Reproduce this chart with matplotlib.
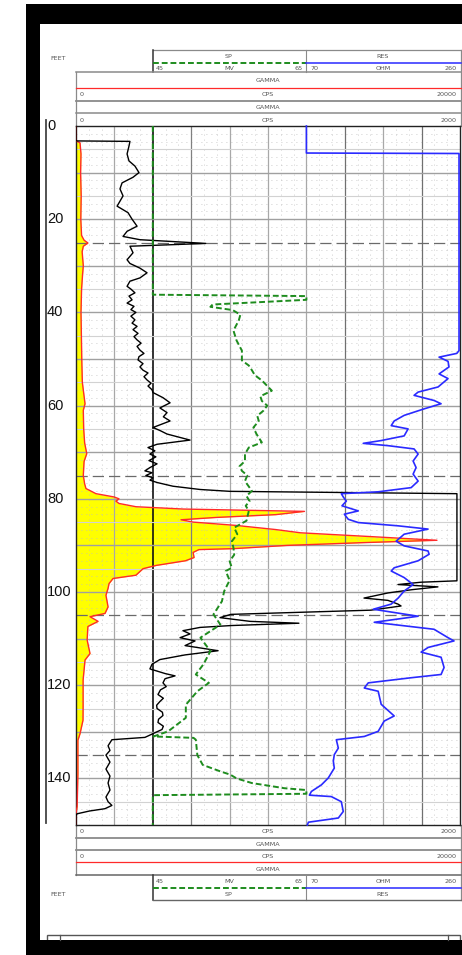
import matplotlib
matplotlib.use("Agg")
import matplotlib.pyplot as plt
import matplotlib.transforms as mtransforms
from matplotlib.patches import Rectangle

# ---------------- data (depth in feet) ----------------
# GAMMA, 0-20000 CPS (red curve with yellow fill)
gamma_hi_depth = [0, 3.2, 3.6, 6, 10, 15, 20, 23.5, 24.5, 25.1, 25.8, 27, 30, 32, 35, 40, 45, 50, 55,
                  59.6, 61, 65, 68, 70.3, 72, 75, 76.8, 77.8, 78.9, 79.6, 80.0, 80.5, 81.0, 81.7, 82.2,
                  82.7, 83.4, 84.0, 84.5, 85.0, 85.7, 86.6, 87.3, 88.1, 88.9, 89.4, 90.0, 90.7, 90.9,
                  91.5, 92.6, 93.3, 94.3, 95.0, 96.4, 97.1, 98.2, 99.2, 100.7, 103.2, 104.6, 105.3,
                  106.3, 107.4, 110.3, 113.2, 114.6, 118.9, 124.6, 127.5, 130.4, 131.8, 139.0, 146.0,
                  147.5, 150]
gamma_hi_cps = [0, 0, 210, 260, 240, 270, 250, 290, 420, 620, 380, 320, 380, 340, 290, 260, 280, 300, 330,
                470, 380, 400, 450, 560, 420, 380, 450, 520, 1040, 1980, 2240, 2080, 2240, 3120, 5600,
                11900, 10400, 7300, 5470, 6100, 8300, 10400, 11700, 15300, 18800, 15000, 11000, 8200, 6400,
                6100, 6150, 5700, 4170, 3490, 3120, 1930, 1720, 1670, 1560, 1670, 1510, 730,
                1150, 620, 580, 730, 470, 370, 370, 365, 210, 100, 100, 60,
                0, 0]

# GAMMA, 0-2000 CPS (black curve)
gamma_lo_depth = [0, 3.2, 3.3, 4.3, 6, 7.5, 8.6, 10, 11, 12.2, 13.5, 15, 17.2, 18.6, 20, 21.5, 22.6, 23.7,
                  24.4, 25.2, 25.8, 27.2, 28.7, 29.5, 30.5, 31.5, 32.6, 33.3, 34.4, 35.0, 35.8, 36.5, 37.3,
                  38.0, 38.7, 39.4, 40.0, 40.8, 41.6, 42.3, 43.0, 43.7, 44.5, 45.2, 45.9, 46.6, 47.3, 48.1,
                  48.8, 49.5, 50.2, 51.0, 51.7, 52.4, 53.0, 53.8, 54.5, 55.2, 55.8, 56.6, 57.2, 58.3, 59.4,
                  60.5, 61.5, 62.4, 63.3, 64.7, 65.4, 66.1, 67.4, 68.3, 69.0, 69.7, 70.4, 71.0, 71.8, 72.5,
                  73.3, 74.0, 74.4, 75.0, 75.5, 76.0, 76.5, 77.3, 78.0, 78.4, 78.9, 97.6, 97.9,
                  98.4, 98.9, 99.5, 100.2, 101.3, 101.8, 102.6, 103.0, 103.9, 104.8, 105.5, 106.3, 106.7,
                  107.2, 107.6, 108.3, 109.0, 109.8, 110.5, 111.5, 112.6, 113.5, 114.5, 115.5, 116.5, 117.5,
                  118.0, 118.6, 119.5, 120.3, 121.0, 122.0, 122.8, 123.5, 124.3, 125.0, 125.8, 126.5, 127.3,
                  128.0, 128.8, 129.5, 130.5, 131.2, 131.7,
                  133.0, 134.0, 135.0, 136.5, 138.0, 139.5, 141.0, 142.5, 144.0, 145.0, 145.8, 146.5, 147.0,
                  147.6, 148.0, 150]
gamma_lo_cps = [0, 0, 281, 276, 266, 276, 307, 328, 297, 240, 229, 245, 214, 271, 292, 318, 266, 245,
                333, 677, 281, 297, 266, 281, 333, 370, 333, 281, 266, 286, 307, 276, 292,
                266, 302, 286, 312, 286, 307, 292, 318, 297, 323, 302, 318, 339, 318, 333,
                354, 328, 323, 349, 333, 349, 375, 354, 370, 391, 375, 396, 401, 453, 490,
                437, 474, 455, 490, 401, 440, 474, 594, 422, 375, 411, 385, 416, 380, 422,
                385, 359, 396, 364, 401, 385, 422, 505, 646, 802, 1984, 1984, 1797,
                1677, 1885, 1750, 1625, 1500, 1625, 1677, 1693, 1536, 807, 750, 906, 1161,
                807, 646, 557, 594, 542, 620, 568, 740, 568, 437, 396, 385, 464,
                516, 464, 453, 470, 440, 427, 455, 437, 420, 422, 450, 453, 430,
                427, 455, 448, 396, 359, 187,
                167, 177, 156, 177, 156, 177, 167, 177, 156, 167, 187, 151, 70,
                5, 0, 0]

# SP, 45-65 MV (green dashed)
sp_depth = [0, 36.2, 36.5, 37.3, 38.3, 38.8, 39.5, 40.5, 41.7, 43.9, 46, 48.2, 50.3, 51.4, 52.4, 53.5, 54.6,
            56.8, 58.0, 59, 60.0, 61.1, 62.2, 63.3, 64.7, 66.1, 67.9, 69, 70.4, 71.9, 73.0, 74, 75.0, 76.2,
            78.3, 79.4, 80.5, 81.5, 82.6, 84.7, 86.2, 87.6, 89.1, 90.5, 92, 93.4, 94.8, 95.5, 97.5, 99.8,
            102, 104.8, 107, 109.8, 112.7, 115.5, 117.7, 119.5, 121.3, 124.2, 127, 129.9, 131, 131.3,
            131.7, 135, 137.1, 138.5, 139.2, 140, 141, 142.1, 142.5, 143.3, 143.6, 150]
sp_mv = [45.0, 45.0, 65.0, 65.0, 52.8, 52.5, 55.4, 56.4, 56.2, 55.5, 55.9, 56.6, 56.6, 57.5, 57.9, 58.3, 59.2,
         60.5, 59.0, 59.2, 59.9, 59.4, 58.6, 58.8, 58.1, 58.5, 59.2, 57.5, 57.0, 57.0, 56.3, 56.6, 57.3, 57.0,
         57.9, 57.2, 57.6, 57.1, 57.5, 57.2, 55.6, 56.0, 55.3, 55.5, 55.6, 55.0, 55.3, 54.5, 55.0, 54.3,
         54.0, 52.9, 53.8, 51.2, 52.5, 51.6, 50.6, 52.3, 50.8, 49.3, 49.3, 47.0, 45.1, 50.3,
         50.6, 50.8, 51.5, 53.8, 55.1, 55.9, 57.9, 62.1, 65.0, 65.0, 45.0, 45.0]

# RES, 70-260 OHM (blue)
res_depth = [0, 5.8, 5.9, 48.2, 48.8, 49.6, 50.5, 51.7, 53.2, 54.2, 56, 57.1, 57.8, 58.9, 59.6, 60.7, 62.1,
             63.3, 64.3, 65, 66.5, 67.5, 68.1, 68.6, 69.3, 70.4, 71.9, 73.3, 74.7, 76.2, 77.6, 78.5, 78.9,
             79.6, 80.5, 81.5, 82.6, 83.3, 84.4, 85.1, 85.8, 86.5, 87.6, 89.1, 90.1, 91.2, 91.9, 93.3,
             94.8, 95.5, 96.9, 98.4, 99.8, 101.3, 102.6, 103.7, 105.2, 106.5, 108, 109.8, 110.5, 111.9,
             112.9, 114, 116.2, 117.7, 118.4, 119.5, 120.6, 121.3, 124.1, 126.6, 127.7, 129.9, 131,
             131.7, 133.5, 134.9, 136.3, 137.8, 139.9, 141.4, 142.8, 143.6, 143.9, 145, 147.1, 148.5,
             149.4, 150]
res_ohm = [70, 70, 258.8, 258.8, 256, 234.1, 245.2, 246.4, 234.1, 245.2, 232.9, 208.2, 203.2, 227.9, 236.6,
           215.6, 190.9, 178.6, 174.9, 195.8, 190.9, 162.5, 140.3, 171.2, 203.2, 208.2, 202, 205.7, 202,
           208.2, 199.6, 158.8, 113.2, 115.6, 119.4, 114, 134.2, 116.9, 121.8, 134.2, 183.5, 220.5,
           190.9, 181, 190.9, 220.5, 221.8, 208.2, 178.6, 174.9, 190.9, 202, 190.9, 183.5, 174.9, 152.7,
           208.2, 153.9, 227.9, 245.2, 252.6, 220.5, 211.9, 236.6, 240.3, 236.6, 199.6, 146.5, 141.6,
           158.8, 162.5, 178.6, 166.2, 158.8, 141.6, 107, 109.5, 104.5, 103.3, 104.5, 97.1, 88.5, 76.2,
           73.7, 100.8, 113.2, 115.6, 109.5, 72.5, 71.2]

depth_labels = [0, 20, 40, 60, 80, 100, 120, 140]
marker_depths = [25, 75, 105, 135]

# ---------------- figure ----------------
W, H = 462, 955
fig = plt.figure(figsize=(W / 100, H / 100), dpi=100)
fig.patch.set_facecolor("white")

frame = fig.add_axes([0, 0, 1, 1])
frame.set_xlim(0, W)
frame.set_ylim(H, 0)
frame.axis("off")

# black scan border
frame.add_patch(Rectangle((26, 4), 14, H - 4, color="black", lw=0))
frame.add_patch(Rectangle((26, 4), W - 26, 20, color="black", lw=0))
frame.add_patch(Rectangle((26, 940), W - 26, 15, color="black", lw=0))

L, R, T, B = 76, 460, 126, 825
SPL, SPR = 152.8, 306.4
HC = "#8a8a8a"
TC = "#555555"
FS = 4.6


def hl(y, x0, x1, **kw):
    frame.plot([x0, x1], [y, y], **kw)


def vl(x, y0, y1, **kw):
    frame.plot([x, x], [y0, y1], **kw)


def txt(x, y, s, ha="center"):
    frame.text(x, y, s, ha=ha, va="center", fontsize=FS, color=TC, family="DejaVu Sans")


green = "#1e8c1e"
blue = "#2a2aff"
red = "#ff2a2a"

# ---- top header ----
hl(50, SPL, R + 1, color=HC, lw=0.9)
vl(SPL, 50, 72, color="#333333", lw=1.1)
vl(SPR, 50, 72, color=HC, lw=0.8)
vl(R + 1, 50, 126, color=HC, lw=0.9)
txt(229, 57, "SP"); txt(383, 57, "RES")
hl(63, SPL, SPR, color=green, lw=1.4, ls=(0, (3, 1.5)))
hl(63, SPR, R + 1, color=blue, lw=1.1)
txt(156, 69, "45", "left"); txt(229, 69, "MV"); txt(303, 69, "65", "right")
txt(310, 69, "70", "left"); txt(383, 69, "OHM"); txt(457, 69, "260", "right")
hl(72.5, L, R + 1, color=HC, lw=1.1)
vl(L, 72.5, 126, color=HC, lw=0.9)
txt(268, 81, "GAMMA")
hl(88, L, R + 1, color=red, lw=0.9)
txt(80, 95, "0", "left"); txt(268, 95, "CPS"); txt(457, 95, "20000", "right")
hl(101, L, R + 1, color=HC, lw=1.3)
txt(268, 107.5, "GAMMA")
hl(113.5, L, R + 1, color=HC, lw=1.1)
txt(80, 120, "0", "left"); txt(268, 120, "CPS"); txt(457, 120, "2000", "right")
frame.text(50, 58, "FEET", ha="left", va="center", fontsize=FS, color=TC)

# ---- bottom header ----
vl(L, B, 875, color=HC, lw=0.9)
vl(R + 1, B, 900, color=HC, lw=0.9)
txt(80, 831, "0", "left"); txt(268, 831, "CPS"); txt(457, 831, "2000", "right")
hl(837.5, L, R + 1, color=HC, lw=1.3)
txt(268, 844, "GAMMA")
hl(850, L, R + 1, color=HC, lw=1.3)
txt(80, 856, "0", "left"); txt(268, 856, "CPS"); txt(457, 856, "20000", "right")
hl(862, L, R + 1, color=red, lw=0.9)
txt(268, 869, "GAMMA")
hl(875, L, R + 1, color="#666666", lw=1.1)
vl(SPL, 875, 900, color="#333333", lw=1.1)
vl(SPR, 875, 900, color=HC, lw=0.8)
txt(156, 881.5, "45", "left"); txt(229, 881.5, "MV"); txt(303, 881.5, "65", "right")
txt(310, 881.5, "70", "left"); txt(383, 881.5, "OHM"); txt(457, 881.5, "260", "right")
hl(888, SPL, SPR, color=green, lw=1.4, ls=(0, (3, 1.5)))
hl(888, SPR, R + 1, color=blue, lw=1.1)
txt(229, 894, "SP"); txt(383, 894, "RES")
hl(900, SPL, R + 1, color="#666666", lw=1.0)
frame.text(50, 894, "FEET", ha="left", va="center", fontsize=FS, color=TC)

# bottom strip (cut by the border)
frame.add_patch(Rectangle((47, 935), 413, 12, fill=False, ec="#555555", lw=1.0, zorder=0))
vl(60, 935, 940, color="#555555", lw=0.9)
vl(448, 935, 940, color="#555555", lw=0.9)

# depth axis line
vl(46, 120, 823, color="#444444", lw=1.3)

# ---------------- track axes ----------------
pos = [L / W, 1 - B / H, (R - L) / W, (B - T) / H]
ax = fig.add_axes(pos)
ax.set_xlim(0, 20000)
ax.set_ylim(150, 0)
ax.set_xticks([])
ax.set_yticks([])
for s in ax.spines.values():
    s.set_color("#222222")
    s.set_linewidth(1.0)

ax.fill_betweenx(gamma_hi_depth, 0, gamma_hi_cps, color="#ffff00", lw=0, zorder=1)

# minor dotted grid
for k in range(1, 30):
    if k % 3:
        ax.axvline(k * 2000 / 3, color="#bdbdbd", lw=0.6, ls=(0, (1, 5)), zorder=2)
for k in range(1, 90):
    if k % 3:
        ax.axhline(k * 5 / 3, color="#bdbdbd", lw=0.6, ls=(0, (1, 5)), zorder=2)
# major grid
vcol = {2000: "#a8a8a8", 4000: "#111111", 6000: "#808080", 8000: "#a8a8a8", 10000: "#a8a8a8",
        12000: "#a8a8a8", 14000: "#707070", 16000: "#a8a8a8", 18000: "#707070"}
for xv, c in vcol.items():
    ax.axvline(xv, color=c, lw=1.2 if xv == 4000 else 0.9, zorder=2)
for d in range(5, 150, 5):
    if d in marker_depths:
        ax.axhline(d, color="#6a6a6a", lw=0.9, ls=(0, (9, 4)), zorder=2)
    elif d % 10 == 0:
        ax.axhline(d, color="#a0a0a0", lw=1.0, zorder=2)
    else:
        ax.axhline(d, color="#d2d2d2", lw=0.8, zorder=2)

ax.plot(gamma_hi_cps, gamma_hi_depth, color=red, lw=1.0, zorder=3)

# depth labels
trans = mtransforms.blended_transform_factory(fig.transFigure, ax.transData)
for d in depth_labels:
    ax.text(47 / W, d, str(d), transform=trans, ha="left", va="center",
            fontsize=10.5, family="Liberation Sans", color="#111111", clip_on=False)

# GAMMA 0-2000 (black)
ax2 = fig.add_axes(pos)
ax2.set_xlim(0, 2000)
ax2.set_ylim(150, 0)
ax2.axis("off")
ax2.plot(gamma_lo_cps, gamma_lo_depth, color="black", lw=1.0)

# SP
ax_sp = fig.add_axes([SPL / W, 1 - B / H, (SPR - SPL) / W, (B - T) / H])
ax_sp.set_xlim(45, 65)
ax_sp.set_ylim(150, 0)
ax_sp.axis("off")
ax_sp.plot(sp_mv, sp_depth, color=green, lw=1.4, ls=(0, (3, 1.5)), clip_on=False)

# RES
ax_res = fig.add_axes([SPR / W, 1 - B / H, (R - SPR) / W, (B - T) / H])
ax_res.set_xlim(70, 260)
ax_res.set_ylim(150, 0)
ax_res.axis("off")
ax_res.plot(res_ohm, res_depth, color=blue, lw=1.2, clip_on=False)

fig.savefig("out.png", dpi=100, facecolor="white")
